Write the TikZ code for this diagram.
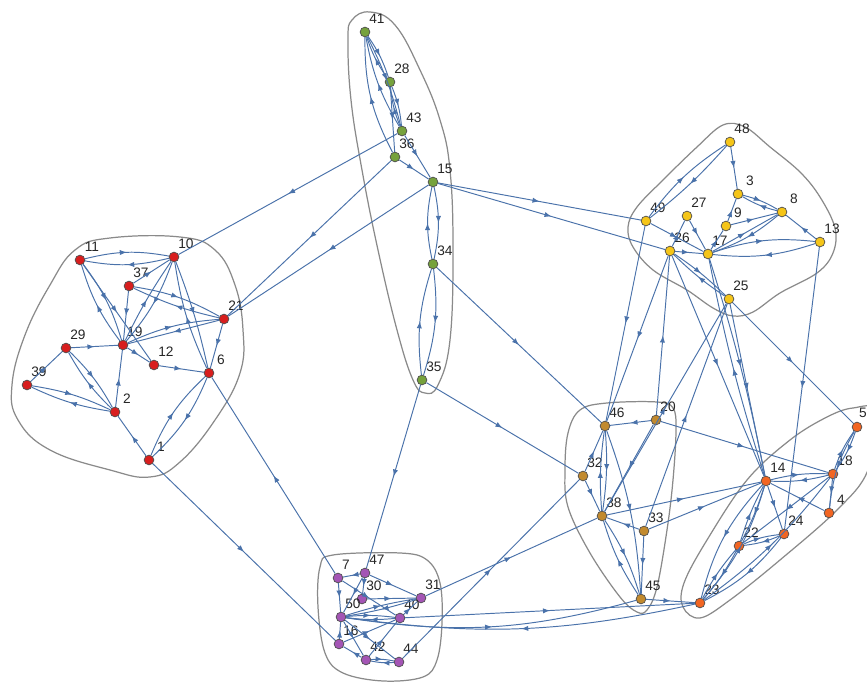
\documentclass[tikz,border=0pt]{standalone}
\usepackage{fontspec}
\setsansfont{Liberation Sans}
\usetikzlibrary{arrows.meta,decorations.markings}
\definecolor{cred}{HTML}{D81E1E}
\definecolor{cgreen}{HTML}{76A23C}
\definecolor{cyellow}{HTML}{F5C518}
\definecolor{cbrown}{HTML}{C28A2E}
\definecolor{corange}{HTML}{F26522}
\definecolor{cpurple}{HTML}{A455B5}
\definecolor{cedge}{HTML}{4A72AA}
\definecolor{chull}{HTML}{8A8A8A}
\tikzset{
  vert/.style={circle,inner sep=0pt,minimum size=0.195cm,draw=black!70,line width=0.4pt},
  lbl/.style={font=\fontsize{7.8}{9}\selectfont\sffamily,text=black!85,inner sep=0pt},
  ed/.style={draw=cedge,line width=0.55pt,postaction={decorate},
    decoration={markings,mark=at position 0.5 with {\arrow{Latex[length=4pt,width=3pt]}}}},
  hull/.style={draw=chull,line width=0.7pt},
}
\newcommand\vtxl[6]{\node[vert,fill=#4] (n#1) at (#2,#3) {};
  \node[lbl] (l#1) at (#2+#5,#3+#6) {#1};}
\newcommand\vtx[4]{\vtxl{#1}{#2}{#3}{#4}{12}{-13}}
\begin{document}
\begin{tikzpicture}[x=0.02cm,y=-0.02cm]
\useasboundingbox (0,0) rectangle (867,682);
\clip (0,0) rectangle (867,682);
% hulls
\draw[hull] plot[smooth cycle,tension=0.7] coordinates {(240,373) (215,420) (180,462) (150,477) (110,470) (50,450) (18,420) (12,385) (25,335) (50,285) (75,250) (110,238) (180,237) (215,250) (235,285) (243,330)};
\draw[hull] plot[smooth cycle,tension=0.7] coordinates {(348,40) (351,100) (362,170) (378,250) (397,330) (413,380) (425,393) (438,385) (450,340) (453,250) (450,170) (440,120) (420,70) (395,25) (370,12) (352,20)};
\draw[hull] plot[smooth cycle,tension=0.6] coordinates {(723,125) (745,127) (770,147) (800,172) (820,197) (835,228) (833,253) (817,273) (780,293) (753,312) (733,316) (713,308) (687,290) (653,270) (633,247) (628,227) (637,207) (663,180) (697,147)};
\draw[hull] plot[smooth cycle,tension=0.6] coordinates {(580,410) (607,403) (657,402) (673,408) (676,430) (673,480) (667,530) (657,587) (647,610) (637,612) (620,597) (590,553) (568,507) (565,470) (568,433)};
\draw[hull] plot[smooth cycle,tension=0.6] coordinates {(853,408) (875,412) (868,470) (837,510) (780,560) (730,600) (700,618) (683,607) (684,583) (707,540) (747,480) (790,440) (827,417)};
\draw[hull] plot[smooth cycle,tension=0.6] coordinates {(333,555) (400,553) (427,560) (440,583) (442,623) (437,660) (423,677) (383,681) (343,673) (325,653) (318,607) (320,567)};
% vertices
\vtx{11}{80}{260}{cred}
\vtx{10}{174}{257}{cred}
\vtx{37}{129}{286}{cred}
\vtx{21}{224}{319}{cred}
\vtx{19}{123}{345}{cred}
\vtx{29}{66}{348}{cred}
\vtx{12}{154}{365}{cred}
\vtx{6}{209}{373}{cred}
\vtx{39}{27}{385}{cred}
\vtx{2}{115}{412}{cred}
\vtx{1}{149}{460}{cred}
\vtx{41}{365}{32}{cgreen}
\vtx{28}{390}{82}{cgreen}
\vtx{43}{402}{131}{cgreen}
\vtx{36}{395}{157}{cgreen}
\vtx{15}{433}{182}{cgreen}
\vtx{34}{433}{264}{cgreen}
\vtx{35}{422}{380}{cgreen}
\vtx{48}{730}{142}{cyellow}
\vtx{3}{738}{194}{cyellow}
\vtx{8}{782}{212}{cyellow}
\vtx{27}{687}{216}{cyellow}
\vtx{49}{646}{221}{cyellow}
\vtx{9}{726}{226}{cyellow}
\vtx{13}{820}{242}{cyellow}
\vtx{26}{670}{251}{cyellow}
\vtx{17}{708}{254}{cyellow}
\vtx{25}{729}{299}{cyellow}
\vtx{46}{605}{426}{cbrown}
\vtx{20}{656}{420}{cbrown}
\vtx{32}{583}{476}{cbrown}
\vtx{38}{602}{516}{cbrown}
\vtx{33}{644}{531}{cbrown}
\vtx{45}{641}{599}{cbrown}
\vtxl{5}{857}{427}{corange}{6}{-14}
\vtx{18}{833}{474}{corange}
\vtx{14}{766}{481}{corange}
\vtx{4}{829}{513}{corange}
\vtx{24}{784}{534}{corange}
\vtx{22}{739}{546}{corange}
\vtx{23}{700}{603}{corange}
\vtxl{7}{338}{578}{cpurple}{8}{-13}
\vtx{47}{365}{573}{cpurple}
\vtx{30}{362}{599}{cpurple}
\vtx{31}{421}{598}{cpurple}
\vtx{50}{341}{617}{cpurple}
\vtx{40}{400}{618}{cpurple}
\vtx{16}{339}{644}{cpurple}
\vtx{42}{366}{660}{cpurple}
\vtx{44}{399}{662}{cpurple}
% edges
\foreach \a/\b/\bd in {
  11/10/12, 10/11/12, 19/10/4, 10/19/10, 11/19/10, 19/11/10, 11/12/0, 37/10/0, 37/19/0,
  37/21/10, 21/37/6, 21/19/0, 19/21/10, 10/6/4, 6/10/8, 21/6/0, 19/12/0, 12/6/0,
  29/19/0, 39/29/0, 29/2/8, 2/29/8, 39/2/8, 2/39/8, 2/19/0, 1/2/0, 1/6/12, 6/1/12,
  41/28/8, 28/41/8, 41/43/6, 43/41/10, 36/41/14, 28/43/8, 43/28/8, 28/36/0,
  43/15/0, 36/15/0, 15/34/12, 34/15/12, 34/35/12, 35/34/12,
  43/10/0, 36/21/0, 15/21/0, 15/49/0, 15/26/0, 34/46/0, 35/32/0, 35/47/0, 1/16/0, 7/6/0,
  48/3/0, 49/48/10, 48/49/5, 3/8/8, 8/3/8, 9/8/0, 17/8/0, 8/17/10, 17/9/0, 9/3/0,
  13/8/0, 17/13/12, 13/17/12, 27/17/0, 26/27/0, 49/17/0, 26/17/0,
  26/25/5, 25/26/5, 17/14/3, 14/17/3, 26/14/0, 25/14/0, 13/24/0,
  49/46/0, 26/46/0, 20/26/0, 38/25/0, 33/25/0, 25/5/0,
  20/46/0, 20/38/0, 32/46/0, 32/38/0, 46/38/6, 38/46/6, 46/45/8, 33/38/0, 33/45/0,
  38/45/8, 45/38/8, 38/14/0, 33/14/0, 20/18/0, 44/32/0, 31/38/0,
  50/45/-12, 40/23/0, 23/50/10, 45/23/0,
  18/5/8, 5/18/8, 5/4/-12, 14/18/8, 18/14/8, 4/14/0, 18/4/0, 18/22/0, 23/18/-8,
  14/24/0, 24/22/8, 22/24/8, 14/22/5, 22/14/5, 14/23/-14, 23/14/-12, 22/23/6, 23/22/6, 24/23/12,
  47/7/0, 7/50/0, 47/30/0, 47/50/0, 47/31/0, 7/40/0, 30/31/0, 31/50/4, 50/31/4,
  40/50/6, 50/40/6, 50/42/0, 42/40/0, 16/50/0, 42/16/0, 42/44/8, 44/42/8, 16/40/0, 50/44/0, 40/31/0}
  {\draw[ed] (n\a) to[bend left=\bd] (n\b);}
\end{tikzpicture}
\end{document}
